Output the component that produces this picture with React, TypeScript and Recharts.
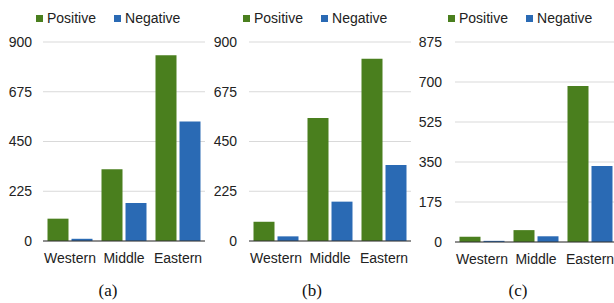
import { BarChart, Bar, XAxis, YAxis, CartesianGrid } from "recharts";

const regions = ["Western", "Middle", "Eastern"];

const positiveA = [101, 324, 840];
const negativeA = [10, 172, 540];
const positiveB = [87, 556, 824];
const negativeB = [21, 178, 344];
const positiveC = [23, 52, 682];
const negativeC = [5, 25, 332];

const ticksAB = [0, 225, 450, 675, 900];
const ticksC = [0, 175, 350, 525, 700, 875];

const GREEN = "#4a7f1e";
const BLUE = "#2a6ab4";
const FONT = "'Liberation Sans', Arial, sans-serif";

function buildRows(pos: number[], neg: number[]) {
  return regions.map((region, i) => ({ region, positive: pos[i], negative: neg[i] }));
}

function LegendBox({ left }: { left: number }) {
  const items = [
    { label: "Positive", color: GREEN },
    { label: "Negative", color: BLUE },
  ];
  return (
    <div
      style={{
        position: "absolute",
        top: 9,
        left,
        display: "flex",
        alignItems: "center",
        fontFamily: FONT,
        fontSize: 14,
        lineHeight: "18px",
        color: "#222",
        whiteSpace: "nowrap",
      }}
    >
      {items.map((it, i) => (
        <div key={it.label} style={{ display: "flex", alignItems: "center", marginRight: i === 0 ? 18 : 0 }}>
          <span style={{ width: 7, height: 7, background: it.color, marginRight: 4, display: "inline-block" }} />
          <span>{it.label}</span>
        </div>
      ))}
    </div>
  );
}

type PanelProps = {
  left: number;
  pos: number[];
  neg: number[];
  ticks: number[];
  labelMargin: number;
  bottom: number;
  caption: string;
  captionX: number;
  legendX: number;
};

function Panel({ left, pos, neg, ticks, labelMargin, bottom, caption, captionX, legendX }: PanelProps) {
  const rows = buildRows(pos, neg);
  const max = ticks[ticks.length - 1];
  return (
    <div style={{ position: "absolute", left, top: 0, width: 206, height: 303 }}>
      <BarChart
        width={206}
        height={303}
        data={rows}
        margin={{ top: 42, right: 1, bottom, left: 0 }}
        barCategoryGap={4.5}
        barGap={3}
      >
        <CartesianGrid vertical={false} stroke="#d9d9d9" />
        <XAxis
          dataKey="region"
          interval={0}
          tickLine={false}
          tickSize={0}
          tickMargin={12}
          axisLine={{ stroke: "#333" }}
          tick={{ fill: "#222", fontSize: 14, fontFamily: FONT }}
        />
        <YAxis
          width={43}
          domain={[0, max]}
          ticks={ticks}
          interval={0}
          axisLine={false}
          tickLine={false}
          tickSize={0}
          tickMargin={labelMargin}
          tick={{ fill: "#222", fontSize: 14, fontFamily: FONT }}
        />
        <Bar dataKey="positive" fill={GREEN} isAnimationActive={false} />
        <Bar dataKey="negative" fill={BLUE} isAnimationActive={false} />
      </BarChart>
      <LegendBox left={legendX} />
      <div
        style={{
          position: "absolute",
          top: 281,
          left: captionX - 30,
          width: 60,
          textAlign: "center",
          fontFamily: "'Liberation Serif', 'Times New Roman', serif",
          fontSize: 17,
          color: "#111",
        }}
      >
        {caption}
      </div>
    </div>
  );
}

export default function App() {
  return (
    <div style={{ position: "absolute", left: 0, top: 0, width: 614, height: 303, overflow: "hidden", background: "#fff" }}>
      <Panel left={0} pos={positiveA} neg={negativeA} ticks={ticksAB} labelMargin={11} bottom={32} caption="(a)" captionX={108} legendX={36} />
      <Panel left={206} pos={positiveB} neg={negativeB} ticks={ticksAB} labelMargin={12} bottom={32} caption="(b)" captionX={106} legendX={37} />
      <Panel left={412} pos={positiveC} neg={negativeC} ticks={ticksC} labelMargin={13} bottom={31} caption="(c)" captionX={106} legendX={36} />
    </div>
  );
}
